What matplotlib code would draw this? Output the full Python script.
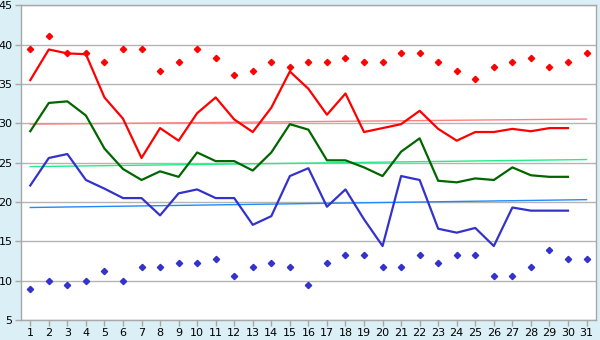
import numpy as np
import matplotlib.pyplot as plt

# days of the month
days = np.arange(1, 32)
line_days = np.arange(1, 31)

# daily lines (30 values)
red_line = [35.5, 39.4, 38.9, 38.8, 33.3, 30.6, 25.6, 29.4, 27.8, 31.3,
            33.3, 30.5, 28.9, 32.0, 36.6, 34.4, 31.1, 33.8, 28.9, 29.4,
            29.9, 31.6, 29.3, 27.8, 28.9, 28.9, 29.3, 29.0, 29.4, 29.4]
green_line = [29.0, 32.6, 32.8, 31.0, 26.8, 24.2, 22.8, 23.9, 23.2, 26.3,
              25.2, 25.2, 24.0, 26.3, 29.9, 29.2, 25.3, 25.3, 24.4, 23.3,
              26.4, 28.1, 22.7, 22.5, 23.0, 22.8, 24.4, 23.4, 23.2, 23.2]
blue_line = [22.1, 25.6, 26.1, 22.8, 21.7, 20.5, 20.5, 18.3, 21.1, 21.6,
             20.5, 20.5, 17.1, 18.2, 23.3, 24.3, 19.4, 21.6, 17.8, 14.4,
             23.3, 22.8, 16.6, 16.1, 16.7, 14.4, 19.3, 18.9, 18.9, 18.9]

# record points (31 values)
red_points = [39.4, 41.1, 38.9, 38.9, 37.8, 39.4, 39.4, 36.7, 37.8, 39.4,
              38.3, 36.1, 36.7, 37.8, 37.2, 37.8, 37.8, 38.3, 37.8, 37.8,
              38.9, 38.9, 37.8, 36.7, 35.6, 37.2, 37.8, 38.3, 37.2, 37.8, 38.9]
blue_points = [8.9, 10.0, 9.4, 10.0, 11.2, 10.0, 11.7, 11.7, 12.2, 12.2,
               12.8, 10.6, 11.7, 12.2, 11.7, 9.4, 12.2, 13.3, 13.3, 11.7,
               11.7, 13.3, 12.2, 13.3, 13.3, 10.6, 10.6, 11.7, 13.9, 12.8, 12.8]

# trend lines: value at day 1 and day 31
trend_days = [1, 31]
red_trend = [29.9, 30.55]
green_trend = [24.5, 25.4]
blue_trend = [19.3, 20.3]

fig = plt.figure(figsize=(6, 3.4), dpi=100, facecolor="#DAEFF6")
ax = fig.add_axes([0.035, 0.059, 0.958, 0.925])
ax.set_facecolor("white")

# grid
ax.set_axisbelow(True)
ax.yaxis.grid(True, color="#B4B4B4", linewidth=1)

# trend lines
ax.plot(trend_days, red_trend, color="#FF8080", linewidth=1)
ax.plot(trend_days, green_trend, color="#22EE88", linewidth=1)
ax.plot(trend_days, blue_trend, color="#1E8CFF", linewidth=1)

# daily lines
ax.plot(line_days, red_line, color="#FF0000", linewidth=1.6)
ax.plot(line_days, green_line, color="#006600", linewidth=1.6)
ax.plot(line_days, blue_line, color="#3333CC", linewidth=1.6)

# points
ax.plot(days, red_points, linestyle="none", marker="D", markersize=3.2, color="#FF0000")
ax.plot(days, blue_points, linestyle="none", marker="D", markersize=3.2, color="#3333CC")

ax.set_xlim(0.5, 31.5)
ax.set_ylim(5, 45)
ax.set_xticks(days)
ax.set_yticks(np.arange(5, 46, 5))

for s in ax.spines.values():
    s.set_color("#A8A8A8")
    s.set_linewidth(1)

ax.tick_params(axis="both", colors="#A8A8A8", labelcolor="black", labelsize=8, length=4, width=1, pad=2)

fig.savefig("out.png", dpi=100, facecolor=fig.get_facecolor())
